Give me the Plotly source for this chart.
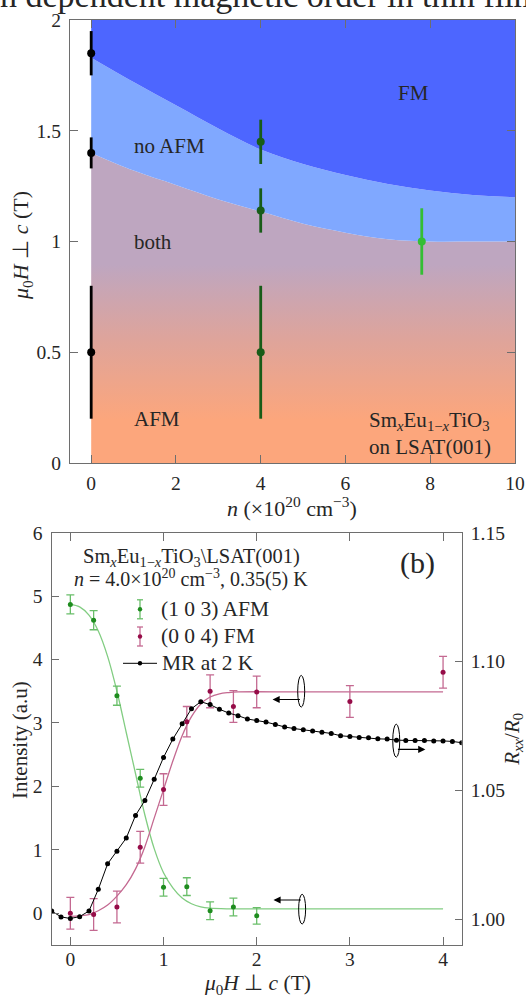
import plotly.graph_objects as go

W, H = 526, 998
FONT = "Liberation Serif, Times New Roman, serif"
TXT = "#262626"
AX = "#6e6e6e"

# ---------------- (a) phase diagram ----------------
n_grid = [0, 1, 2, 3, 4, 5, 6, 7, 8, 9, 10]
h_lower = [1.40, 1.32, 1.255, 1.19, 1.135, 1.08, 1.04, 1.01, 1.00, 1.00, 1.00]
h_upper = [1.83, 1.72, 1.615, 1.51, 1.415, 1.35, 1.30, 1.26, 1.23, 1.21, 1.20]

n_black = [0, 0, 0]
h_black = [1.85, 1.40, 0.50]
e_black = [0.10, 0.07, 0.30]

n_dgreen = [4, 4, 4]
h_dgreen = [1.45, 1.14, 0.50]
e_dgreen = [0.10, 0.10, 0.30]

n_lgreen = [7.8]
h_lgreen = [1.00]
e_lgreen = [0.15]

# ---------------- (b) field scans ----------------
b_afm = [0, 0.25, 0.5, 0.75, 1.0, 1.25, 1.5, 1.75, 2.0]
i_afm = [4.87, 4.62, 3.43, 2.13, 0.41, 0.42, 0.04, 0.10, -0.04]
e_afm = [0.15, 0.15, 0.15, 0.14, 0.14, 0.14, 0.14, 0.14, 0.13]

b_fm = [0, 0.25, 0.5, 0.75, 1.0, 1.25, 1.5, 1.75, 2.0, 3.0, 4.0]
i_fm = [0.00, -0.02, 0.10, 1.04, 1.95, 3.02, 3.50, 3.26, 3.49, 3.34, 3.80]
e_fm = [0.25, 0.25, 0.25, 0.25, 0.25, 0.24, 0.26, 0.25, 0.25, 0.25, 0.25]

b_fit_afm = [0, 0.1, 0.2, 0.3, 0.4, 0.5, 0.6, 0.7, 0.8, 0.9, 1.0, 1.1, 1.2, 1.3, 1.4, 1.5, 1.7, 2.0, 3.0, 4.0]
i_fit_afm = [4.87, 4.83, 4.70, 4.45, 4.05, 3.50, 2.85, 2.20, 1.55, 1.02, 0.64, 0.40, 0.24, 0.15, 0.10, 0.08, 0.07, 0.07, 0.07, 0.07]

b_fit_fm = [0, 0.1, 0.2, 0.3, 0.4, 0.5, 0.6, 0.7, 0.8, 0.9, 1.0, 1.1, 1.2, 1.3, 1.4, 1.5, 1.6, 1.7, 1.8, 2.5, 4.0]
i_fit_fm = [-0.05, -0.04, -0.02, 0.04, 0.13, 0.27, 0.45, 0.70, 1.05, 1.50, 1.95, 2.40, 2.80, 3.10, 3.30, 3.41, 3.46, 3.48, 3.49, 3.49, 3.49]

b_mr = [-0.2, -0.1, 0.0, 0.1, 0.2, 0.3, 0.4, 0.5, 0.6, 0.7, 0.8, 0.9, 1.0, 1.1,
        1.2, 1.3, 1.4, 1.5, 1.6, 1.7, 1.8, 1.9, 2.0, 2.1, 2.2, 2.3, 2.4, 2.5,
        2.6, 2.7, 2.8, 2.9, 3.0, 3.1, 3.2, 3.3, 3.4, 3.5, 3.6, 3.7, 3.8, 3.9,
        4.0, 4.1, 4.2]
r_mr = [1.0032, 1.0009, 1.0003, 1.0010, 1.0032, 1.0116, 1.0215, 1.0264, 1.0315,
        1.0403, 1.0461, 1.0543, 1.0628, 1.0699, 1.0759, 1.0817, 1.0844, 1.0833,
        1.0815, 1.0800, 1.0790, 1.0777, 1.0771, 1.0765, 1.0756, 1.0746, 1.0740,
        1.0735, 1.0730, 1.0726, 1.0721, 1.0712, 1.0709, 1.0705, 1.0704, 1.0700,
        1.0699, 1.0695, 1.0694, 1.0694, 1.0694, 1.0692, 1.0692, 1.0690, 1.0685]


def px(x, y):
    """pixel position -> paper coordinates"""
    return x / W, 1 - y / H


fig = go.Figure()

# phase regions
fig.add_trace(go.Scatter(
    x=n_grid, y=h_lower, mode="lines", line=dict(width=0, shape="spline"),
    fill="tozeroy",
    fillgradient=dict(type="vertical", start=0, stop=1.4,
                      colorscale=[[0, "rgb(252,166,124)"], [0.14, "rgb(252,166,124)"],
                                  [0.40, "rgb(222,164,155)"], [0.64, "rgb(190,166,192)"],
                                  [1, "rgb(190,166,192)"]]),
    hoverinfo="skip", xaxis="x", yaxis="y"))
fig.add_trace(go.Scatter(
    x=n_grid, y=h_upper, mode="lines", line=dict(width=0, shape="spline"),
    fill="tonexty", fillcolor="rgb(128,168,255)", hoverinfo="skip",
    xaxis="x", yaxis="y"))
fig.add_trace(go.Scatter(
    x=[0, 10], y=[2, 2], mode="lines", line=dict(width=0),
    fill="tonexty", fillcolor="rgb(77,102,255)", hoverinfo="skip",
    xaxis="x", yaxis="y"))

for nx, hy, ee, col in [(n_black, h_black, e_black, "black"),
                        (n_dgreen, h_dgreen, e_dgreen, "rgb(24,92,24)"),
                        (n_lgreen, h_lgreen, e_lgreen, "rgb(52,190,52)")]:
    fig.add_trace(go.Scatter(
        x=nx, y=hy, mode="markers", marker=dict(size=8, color=col),
        error_y=dict(type="data", array=ee, color=col, thickness=2.8, width=0),
        xaxis="x", yaxis="y"))

# field scans
G_PT, G_BAR = "rgb(30,140,30)", "rgb(105,190,105)"
R_PT, R_BAR = "rgb(150,12,72)", "rgb(196,105,145)"

fig.add_trace(go.Scatter(x=b_fit_afm, y=i_fit_afm, mode="lines",
                         line=dict(color="rgb(130,205,130)", width=1.3, shape="spline"),
                         xaxis="x2", yaxis="y2"))
fig.add_trace(go.Scatter(x=b_fit_fm, y=i_fit_fm, mode="lines",
                         line=dict(color=R_BAR, width=1.3, shape="spline"),
                         xaxis="x2", yaxis="y2"))
fig.add_trace(go.Scatter(x=b_mr, y=r_mr, mode="lines+markers",
                         line=dict(color="black", width=1),
                         marker=dict(size=5, color="black"),
                         xaxis="x2", yaxis="y3"))
fig.add_trace(go.Scatter(x=b_afm, y=i_afm, mode="markers",
                         marker=dict(size=5, color=G_PT),
                         error_y=dict(type="data", array=e_afm, color=G_BAR, thickness=1.3, width=4),
                         xaxis="x2", yaxis="y2"))
fig.add_trace(go.Scatter(x=b_fm, y=i_fm, mode="markers",
                         marker=dict(size=5, color=R_PT),
                         error_y=dict(type="data", array=e_fm, color=R_BAR, thickness=1.3, width=4),
                         xaxis="x2", yaxis="y2"))

axis_common = dict(showgrid=False, zeroline=False, showline=True, linecolor=AX,
                   linewidth=1.4, ticks="inside", tickcolor=AX, tickwidth=1.2,
                   automargin=False,
                   tickfont=dict(family=FONT, size=19.5, color=TXT))

fig.update_layout(
    width=W, height=H, autosize=False, showlegend=False,
    margin=dict(l=0, r=0, t=0, b=0, autoexpand=False),
    paper_bgcolor="white", plot_bgcolor="white",
    title=dict(text="n dependent magnetic order in thin film",
               font=dict(family=FONT, size=34, color=TXT),
               xref="container", yref="container", x=0.0, xanchor="left",
               y=1 - 6.5 / H, yanchor="bottom", automargin=False),
    xaxis=dict(domain=[70 / W, 515 / W], range=[-0.5, 10], anchor="y",
               tickvals=[0, 2, 4, 6, 8, 10], mirror="ticks", ticklen=8,
               ticklabelstandoff=2, **axis_common),
    yaxis=dict(domain=[1 - 463 / H, 1 - 20 / H], range=[0, 2], anchor="x",
               tickvals=[0, 0.5, 1, 1.5, 2], ticktext=["0", "0.5", "1", "1.5", "2"],
               mirror="ticks", ticklen=8, ticklabelstandoff=4, **axis_common),
    xaxis2=dict(domain=[51.7 / W, 461.7 / W], range=[-0.2, 4.2], anchor="y2",
                tickvals=[0, 1, 2, 3, 4], mirror="ticks", ticklen=8,
                ticklabelstandoff=-4, **axis_common),
    yaxis2=dict(domain=[1 - 945 / H, 1 - 532.7 / H], range=[-0.5, 6], anchor="x2",
                tickvals=[0, 1, 2, 3, 4, 5, 6], ticklen=7, ticklabelstandoff=4,
                **axis_common),
    yaxis3=dict(overlaying="y2", side="right", anchor="x2", range=[0.99, 1.15],
                tickvals=[1.00, 1.05, 1.10, 1.15],
                ticktext=["1.00", "1.05", "1.10", "1.15"], ticklen=7,
                ticklabelstandoff=4,
                title=dict(text="<i>R<sub>xx</sub></i>/<i>R</i><sub>0</sub>",
                           font=dict(family=FONT, size=21, color=TXT), standoff=13),
                **axis_common),
)

ann = []


def label(text, x, y, size=21, xref="x", yref="y", **kw):
    kw.setdefault("xanchor", "center")
    kw.setdefault("yanchor", "middle")
    ann.append(dict(text=text, x=x, y=y, xref=xref, yref=yref, showarrow=False,
                    font=dict(family=FONT, size=size, color=TXT), **kw))


def plabel(text, x, y, size=21, **kw):
    xp, yp = px(x, y)
    label(text, xp, yp, size=size, xref="paper", yref="paper", **kw)


# region names
label("FM", 7.6, 1.67)
label("no AFM", 1.85, 1.43)
label("both", 1.47, 1.0)
label("AFM", 1.55, 0.2)
plabel("Sm<sub><i>x</i></sub>Eu<sub>1−<i>x</i></sub>TiO<sub>3</sub><br>on LSAT(001)",
       367, 433, size=21, xanchor="left", align="left")

# axis titles
plabel("<i>μ</i><sub>0</sub><i>H</i> ⊥ <i>c</i> (T)", 22, 246, size=22, textangle=-90)
plabel("<i>n</i> (×10<sup>20</sup> cm<sup>−3</sup>)", 292, 507, size=22)
plabel("Intensity (a.u)", 20, 740, size=21, textangle=-90)
plabel("<i>μ</i><sub>0</sub><i>H</i> ⊥ <i>c</i> (T)", 257, 984, size=21.5)

# panel (b) header
plabel("Sm<sub><i>x</i></sub>Eu<sub>1−<i>x</i></sub>TiO<sub>3</sub>\\LSAT(001)", 191, 557, size=20.5)
plabel("<i>n</i> = 4.0×10<sup>20</sup> cm<sup>−3</sup>, 0.35(5) K", 191, 578, size=20)
plabel("(b)", 417, 563, size=30)

# legend text
plabel("(1 0 3) AFM", 159, 609, size=21.5, xanchor="left")
plabel("(0 0 4) FM", 159, 636, size=21.5, xanchor="left")
plabel("MR at 2 K", 160, 663, size=21.5, xanchor="left")

# arrows pointing to the relevant axis
arrow = dict(text="", showarrow=True, arrowhead=2, arrowsize=1.3, arrowwidth=1.1,
             arrowcolor="black", standoff=0, startstandoff=0)
ann.append(dict(x=2.17, y=3.37, ax=2.48, ay=3.37, xref="x2", yref="y2",
                axref="x2", ayref="y2", **arrow))
ann.append(dict(x=2.18, y=0.21, ax=2.49, ay=0.21, xref="x2", yref="y2",
                axref="x2", ayref="y2", **arrow))
ann.append(dict(x=3.81, y=1.0659, ax=3.50, ay=1.0659, xref="x2", yref="y3",
                axref="x2", ayref="y3", **arrow))

fig.update_layout(annotations=ann)

shapes = [
    dict(type="circle", xref="x2", yref="y2", x0=2.44, x1=2.515, y0=3.25, y1=3.75,
         line=dict(color="black", width=1)),
    dict(type="circle", xref="x2", yref="y2", x0=2.45, x1=2.525, y0=-0.17, y1=0.30,
         line=dict(color="black", width=1)),
    dict(type="circle", xref="x2", yref="y3", x0=3.46, x1=3.535, y0=1.0629, y1=1.0757,
         line=dict(color="black", width=1)),
]


def pline(x0, y0, x1, y1, color, width=1.3):
    a, b = px(x0, y0)
    c, d = px(x1, y1)
    shapes.append(dict(type="line", xref="paper", yref="paper", x0=a, y0=b, x1=c, y1=d,
                       line=dict(color=color, width=width)))


def pdot(x, y, r, color):
    a, b = px(x - r, y + r)
    c, d = px(x + r, y - r)
    shapes.append(dict(type="circle", xref="paper", yref="paper", x0=a, y0=b, x1=c, y1=d,
                       fillcolor=color, line=dict(color=color, width=0)))


# legend glyphs
for yc, bar, pt in [(609.3, G_BAR, G_PT), (636.5, R_BAR, R_PT)]:
    pline(140, yc - 9.5, 140, yc + 9.5, bar)
    pline(137, yc - 9.5, 143, yc - 9.5, bar)
    pline(137, yc + 9.5, 143, yc + 9.5, bar)
    pdot(140, yc, 2.2, pt)
pline(123, 663.3, 157, 663.3, "black", 1)
pdot(140, 663.3, 2.2, "black")

fig.update_layout(shapes=shapes)

fig.write_html("out.html")
